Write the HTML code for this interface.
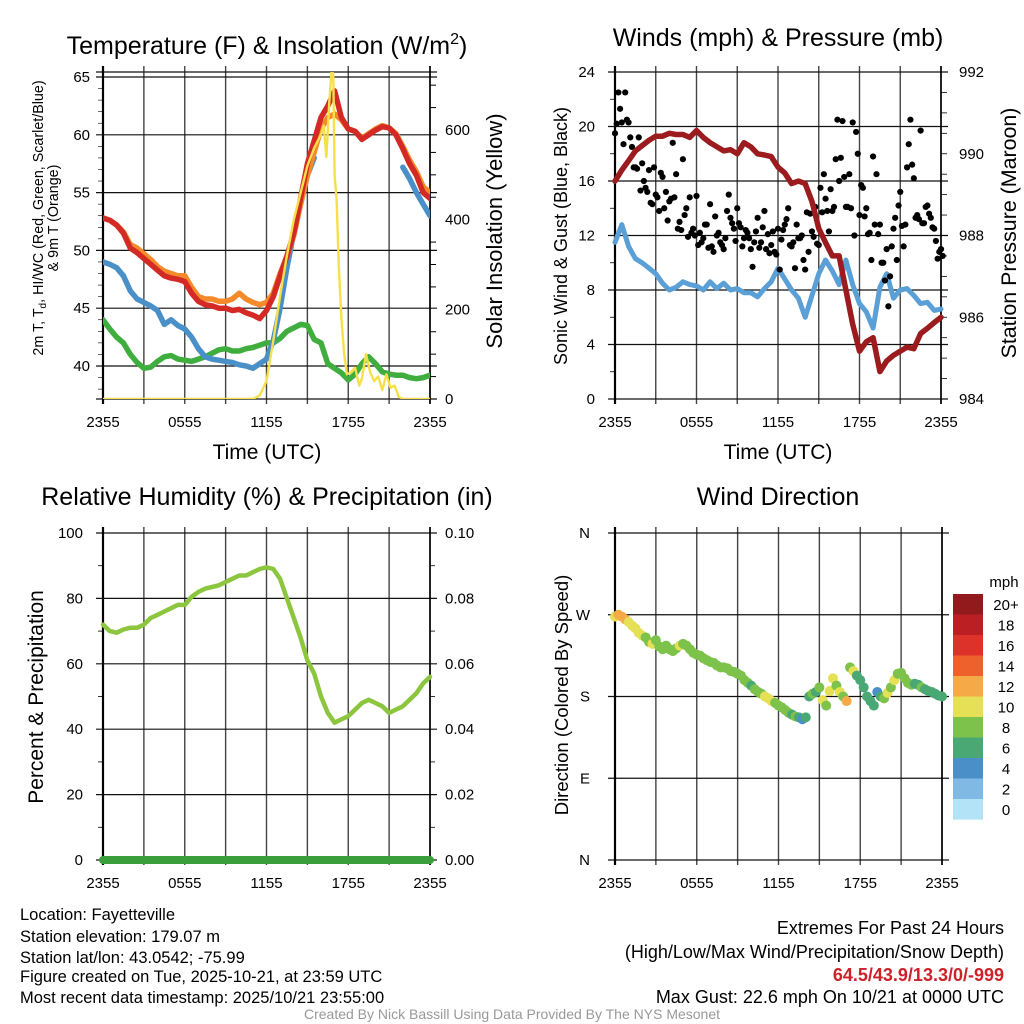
<!DOCTYPE html>
<html><head><meta charset="utf-8"><title>Mesonet station chart</title>
<style>
html,body{margin:0;padding:0;background:#fff;}
svg{display:block;font-family:"Liberation Sans",Arial,sans-serif;}
</style></head>
<body>
<svg id="chart" width="1024" height="1024" viewBox="0 0 1024 1024" xmlns="http://www.w3.org/2000/svg">
<rect width="1024" height="1024" fill="#fff"/>
<g id="root"></g>
<text x="267" y="54" font-size="25" text-anchor="middle">Temperature (F) &amp; Insolation (W/m<tspan font-size="16" dy="-10">2</tspan><tspan dy="10">)</tspan></text>
<text x="778" y="46" font-size="25" text-anchor="middle">Winds (mph) &amp; Pressure (mb)</text>
<text x="267" y="505" font-size="25" text-anchor="middle">Relative Humidity (%) &amp; Precipitation (in)</text>
<text x="778" y="505" font-size="25" text-anchor="middle">Wind Direction</text>

<text x="267" y="459" font-size="21" text-anchor="middle">Time (UTC)</text>
<text x="778" y="459" font-size="21" text-anchor="middle">Time (UTC)</text>

<text font-size="14.3" text-anchor="middle" transform="translate(43,218) rotate(-90)">2m T, T<tspan font-size="10" dy="3">d</tspan><tspan dy="-3">, HI/WC (Red, Green, Scarlet/Blue)</tspan></text>
<text font-size="14.3" text-anchor="middle" transform="translate(58,218) rotate(-90)">&amp; 9m T (Orange)</text>
<text font-size="22" text-anchor="middle" transform="translate(502,231) rotate(-90)">Solar Insolation (Yellow)</text>
<text font-size="18" text-anchor="middle" transform="translate(567,236) rotate(-90)">Sonic Wind &amp; Gust (Blue, Black)</text>
<text font-size="21.4" text-anchor="middle" transform="translate(1016,233) rotate(-90)">Station Pressure (Maroon)</text>
<text font-size="21" text-anchor="middle" transform="translate(43,697) rotate(-90)">Percent &amp; Precipitation</text>
<text font-size="18.5" text-anchor="middle" transform="translate(568,695) rotate(-90)">Direction (Colored By Speed)</text>

<g font-size="16.5">
<text x="20" y="920">Location: Fayetteville</text>
<text x="20" y="942">Station elevation: 179.07 m</text>
<text x="20" y="963">Station lat/lon: 43.0542; -75.99</text>
<text x="20" y="982">Figure created on Tue, 2025-10-21, at 23:59 UTC</text>
<text x="20" y="1003">Most recent data timestamp: 2025/10/21 23:55:00</text>
</g>
<g font-size="18" text-anchor="end">
<text x="1004" y="934">Extremes For Past 24 Hours</text>
<text x="1004" y="958">(High/Low/Max Wind/Precipitation/Snow Depth)</text>
<text x="1004" y="981" fill="#cc2229" font-weight="bold">64.5/43.9/13.3/0/-999</text>
<text x="1004" y="1003">Max Gust: 22.6 mph On 10/21 at 0000 UTC</text>
</g>
<text x="512" y="1019" font-size="14" fill="#999" text-anchor="middle">Created By Nick Bassill Using Data Provided By The NYS Mesonet</text>
</svg>
<script>
// ---- data (hours since 2355 UTC, half-hour steps) ----
const hours = [0,0.5,1,1.5,2,2.5,3,3.5,4,4.5,5,5.5,6,6.5,7,7.5,8,8.5,9,9.5,10,10.5,11,11.5,12,12.5,13,13.5,14,14.5,15,15.5,16,16.5,17,17.5,18,18.5,19,19.5,20,20.5,21,21.5,22,22.5,23,23.5,24];
const tempRed = [52.8,52.6,52.2,51.5,50.2,49.8,49.3,48.8,48.3,47.8,47.6,47.5,47.3,46.3,45.6,45.3,45.2,45.0,45.0,44.8,44.9,44.6,44.4,44.1,44.8,46.0,47.8,49.5,51.5,54.5,57.5,59.5,61.5,62.5,63.8,61.5,60.5,60.3,59.6,60.0,60.4,60.7,60.6,60.0,58.8,57.5,56.5,55.0,54.5];
const tempOrange = [52.8,52.6,52.2,51.6,50.5,50.2,49.7,49.2,48.6,48.2,48.0,47.8,47.8,46.8,46.0,45.8,45.8,45.6,45.6,45.8,46.3,45.8,45.5,45.3,45.5,46.3,48.0,49.5,51.3,54.0,56.5,58.5,60.5,61.5,61.8,61.3,60.5,60.3,59.7,60.1,60.5,60.8,60.6,60.1,59.0,57.8,56.8,55.5,55.0];
const tempBlue = [49.0,48.8,48.5,47.8,46.5,45.8,45.5,45.2,44.8,43.6,44.0,43.5,43.2,42.5,41.5,40.8,40.6,40.5,40.4,40.3,40.1,40.0,39.8,40.2,40.6,42.2,45.0,48.5,51.5,54.0,56.5,58.0,null,null,null,null,null,null,null,null,null,null,null,null,57.2,56.2,55.0,54.0,53.0];
const tempGreen = [44.0,43.2,42.5,42.0,41.0,40.3,39.8,39.9,40.4,40.8,40.9,40.6,40.5,40.4,40.6,40.8,41.1,41.4,41.5,41.3,41.3,41.5,41.6,41.8,42.0,42.0,42.4,43.0,43.3,43.6,43.5,42.3,42.0,40.2,39.8,39.4,38.8,39.3,40.2,40.8,40.2,39.5,39.3,39.2,39.2,39.0,38.9,39.0,39.2];
const solarHours = [0,11.0,11.5,12,12.5,13,13.5,14,14.5,15,15.5,16,16.2,16.4,16.6,16.8,16.9,17.0,17.15,17.3,17.5,17.7,17.9,18.2,18.5,18.8,19.0,19.3,19.6,19.9,20.2,20.5,20.8,21.1,21.4,21.7,22.0,22.5,24];
const solar = [0,0,8,40,130,230,320,400,460,520,560,590,610,540,660,740,720,500,440,300,180,100,55,60,70,30,45,100,60,40,50,20,55,25,30,5,0,0,0];
const windSpeed = [11.5,12.8,11.2,10.3,10.0,9.6,9.2,8.5,8.0,8.2,8.6,8.4,8.3,8.0,8.6,8.1,8.5,8.0,8.1,7.8,7.8,7.5,8.1,8.6,9.6,8.8,8.0,7.4,6.0,7.6,9.2,10.2,9.4,8.4,10.2,8.4,7.0,6.4,5.2,8.2,9.2,7.4,8.0,8.1,7.6,7.0,7.1,6.5,6.6];
const pressure = [989.33,989.6,989.83,990.07,990.2,990.33,990.43,990.43,990.5,990.47,990.47,990.4,990.57,990.4,990.27,990.17,990.07,990.1,990.0,990.27,990.17,990.0,989.97,989.93,989.67,989.53,989.27,989.33,989.27,988.83,988.17,987.83,987.5,987.5,986.67,985.83,985.17,985.4,985.5,984.67,984.93,985.07,985.17,985.27,985.23,985.6,985.73,985.87,986.0];
const relHum = [72,70,69.5,70.5,71,71,72,74,75,76,77,78,78,80.5,82,83,83.5,84,85,86,87,87,88,89,89.5,89,86,80,74,68,61,57,50,45,42,43,44,46,48,49,48,47,45,46,47,49,51,54,56];
const precip = [0,0,0,0,0,0,0,0,0,0,0,0,0,0,0,0,0,0,0,0,0,0,0,0,0,0,0,0,0,0,0,0,0,0,0,0,0,0,0,0,0,0,0,0,0,0,0,0,0];
// quarter-hour series
const gusts = [19.5,22.5,20.3,22.5,20.3,18.5,17,19.2,17.3, 15.5,16.8,14.3,15,13.8,16.3,15.2,14.5, 18.8,16.5,13,17.6,14,14.8,12.5,14.9, 12.2,11.8,12.8,14.3,10.8,12,11.5,11, 13.8,13.3,12.5,14,12.6,11.8,12.2,11, 11.5,13.3,11.5,13.8,12.1,11.3,10.8,12.5, 11.7,12.8,14,11.2,9.6,11.8,12,9.5, 10.8,12.3,14.1,11.3,13.7,14.7,12.3,13.8, 17.6,16,20.4,14.1,16.5,20.3,19.6,13.5, 15.5,14,12.2,17.8,16.5,12.8,10,11, 9,12.5,10.2,15.2,11.2,17,20.5,16.2, 13.5,19.7,12.9,14.2,13.3,12.5,10.3,11];
const gusts2 = [20.2,21.3,18.7,20.5,19.2,17,16.9,15.3,16, 15.2,14.4,17,14.8,16.6,14,13.1,14.7, 14.8,12.5,12.4,13.5,11.9,12.2,12,11.3, 11.5,12.8,11.1,11.2,13.4,12.2,11.3,11.8, 15,12.9,11.6,12.9,11.2,12.4,11.8,9.7, 12.3,11.1,12.6,11,10.7,12.3,10.6,9.5, 12.4,13.2,11.3,11.5,12.8,11.8,10.2,13.7, 13.6,11.9,11.4,15.5,16.5,13.8,15.4,14.1, 20.5,17.7,16.3,14.1,14,12,18,15.7, 13.4,12.1,10.2,12.8,12.1,10,8.7,6.8, 11.2,13.3,14.2,12.7,12.8,18.7,17.2,13.3, 13.2,12.9,14.1,13.6,12.6,11.6,10.8,10.5];
const windDir = [268,270,268,265,262,258,255,250,247, 245,240,238,242,235,232,236,232, 230,233,236,238,236,232,228,226, 225,222,220,218,217,214,212,212, 211,208,207,205,203,198,195,192, 188,185,183,180,178,175,173,170, 168,165,162,160,158,157,155,157, 180,183,185,190,176,170,186,200, 192,185,180,175,212,208,203,198, 190,180,175,170,185,180,178,184, 190,198,205,206,200,195,193,194, 193,190,188,186,185,183,181,180];
const dirSpeed = [10.5,12.5,12.5,12.2,11,10.5,10.3,10.5,10.2, 8.5,8.8,10.5,8.6,8.4,8.5,8.7,8.8, 8.6,8.5,10.5,8.8,8.4,8.5,8.6,8.5, 8.4,8.6,8.5,8.7,8.5,8.4,8.6,8.5, 8.5,8.4,8.6,8.5,8.3,8.5,8.4,6.5, 8.5,8.6,8.4,10.5,10.8,10.4,8.6,8.5, 8.4,8.5,8.2,6.5,8.3,6.8,4.5,6.5, 6.5,8.5,6.5,8.6,10.5,8.5,10.2,11.2, 8.5,10.5,8.5,13,8.5,10.5,6.5,6.8, 6.5,6.6,6.4,6.7,4.5,6.5,8.5,10.5, 8.5,10.8,8.6,8.5,8.4,8.7,8.5,6.5, 6.6,8.5,6.5,6.7,6.5,6.6,6.5,6.4];
const timeTicks = ["2355","0555","1155","1755","2355"];
const tempTicks = [40,45,50,55,60,65];
const solarTicks = [0,200,400,600];
const windTicks = [0,4,8,12,16,20,24];
const presTicks = [984,986,988,990,992];
const rhTicks = [0,20,40,60,80,100];
const precipTicks = ["0.00","0.02","0.04","0.06","0.08","0.10"];
const dirTicks = ["N","E","S","W","N"];
const legendLabels = ["20+","18","16","14","12","10","8","6","4","2","0"];
const legendColors = ["#921a1c","#bb1f24","#dc3229","#ef612c","#f5a947","#e5e055","#7dc24a","#4aa874","#4a8fc7","#80b9e3","#b3e3f7"];

const NS="http://www.w3.org/2000/svg";
const root=document.getElementById('root');
function mk(tag,attrs,parent){const e=document.createElementNS(NS,tag);for(const k in attrs)e.setAttribute(k,attrs[k]);(parent||root).appendChild(e);return e;}
function lin(d0,d1,r0,r1){return v=>r0+(v-d0)*(r1-r0)/(d1-d0);}
const qh = gusts.map((_,i)=>i*0.25);

function panel(name){
  const g=mk('g',{});
  
  
  return g;
}
function grid(g,x0,x1,y0,y1,hys){
  const sx=lin(0,24,x0,x1);
  for(let h=0;h<=24;h+=3){
    const l=mk('line',{x1:sx(h),x2:sx(h),y1:y0-6,y2:y1+5,stroke:'#444','stroke-width':1.4},g);
    
    
  }
  hys.forEach(y=>{
    const l=mk('line',{x1:x0-7,x2:x1+7,y1:y,y2:y,stroke:'#111','stroke-width':1.2},g);
    
    
  });
  mk('line',{x1:x0,x2:x0,y1:y0-6,y2:y1+5,stroke:'#000','stroke-width':2.2},g);
  mk('line',{x1:x1,x2:x1,y1:y0-6,y2:y1+5,stroke:'#000','stroke-width':1.6},g);
  timeTicks.forEach((t,i)=>{
    const tx=mk('text',{x:sx(i*6),y:y1+28,'font-size':15,'text-anchor':'middle'},g);
    tx.textContent=t;
    
    
  });
  return sx;
}
function path(g,xs,ys,sx,sy,color,w,name){
  let d='',pen=false;
  for(let i=0;i<xs.length;i++){
    if(ys[i]===null||ys[i]===undefined){pen=false;continue;}
    d+=(pen?'L':'M')+sx(xs[i]).toFixed(1)+','+sy(ys[i]).toFixed(1);pen=true;
  }
  const p=mk('path',{d:d,fill:'none',stroke:color,'stroke-width':w,'stroke-linejoin':'round','stroke-linecap':'round'},g);
  
  
  return p;
}
function ylab(g,x,y,txt,anchor){
  const t=mk('text',{x:x,y:y+5,'font-size':15,'text-anchor':anchor},g);
  t.textContent=txt;
  
  
}

// ---- Panel 1: temperature ----
{
  const X0=103,X1=430,Y0=72,Y1=399;
  const g=panel('temperature-panel');
  const sy=lin(40,65,366,77), ss=lin(0,600,399,130);
  const sx=grid(g,X0,X1,Y0,Y1,tempTicks.map(sy).concat([Y0,Y1]));
  tempTicks.forEach(v=>ylab(g,X0-13,sy(v),String(v),'end'));
  solarTicks.forEach(v=>ylab(g,X1+15,ss(v),String(v),'start'));
  for(let v=50;v<=700;v+=50){ if(v%200) mk('line',{x1:X1,x2:X1+6,y1:ss(v),y2:ss(v),stroke:'#000','stroke-width':1},g);}
  for(let v=38;v<=65;v+=1){ if(v%5) mk('line',{x1:X0-5,x2:X0,y1:sy(v),y2:sy(v),stroke:'#000','stroke-width':0.6},g);}
  const clip=mk('clipPath',{id:'c1'},g); mk('rect',{x:X0,y:Y0,width:X1-X0,height:Y1-Y0},clip);
  const dg=mk('g',{'clip-path':'url(#c1)'},g);
  path(dg,hours,tempGreen,sx,sy,'#3fae3f',5.5,'dewpoint-line');
  path(dg,hours,tempBlue,sx,sy,'#4a90c8',5.5,'heat-index-line');
  path(dg,hours,tempOrange,sx,sy,'#f48a2a',5.5,'temp-9m-line');
  path(dg,hours,tempRed,sx,sy,'#d42a26',5.5,'temp-2m-line');
  path(dg,solarHours,solar,sx,ss,'#f6e04a',2.4,'solar-line');
}
// ---- Panel 2: wind ----
{
  const X0=615,X1=941,Y0=72,Y1=399;
  const g=panel('wind-panel');
  const sy=lin(0,24,399,72), sp=lin(984,992,399,72);
  const sx=grid(g,X0,X1,Y0,Y1,windTicks.map(sy));
  windTicks.forEach(v=>ylab(g,X0-20,sy(v),String(v),'end'));
  presTicks.forEach(v=>ylab(g,X1+18,sp(v),String(v),'start'));
  for(let v=984.5;v<992;v+=0.5){ mk('line',{x1:X1,x2:X1+6,y1:sp(v),y2:sp(v),stroke:'#000','stroke-width':0.8},g);}
  for(let v=2;v<24;v+=4){ mk('line',{x1:X0-5,x2:X0,y1:sy(v),y2:sy(v),stroke:'#000','stroke-width':0.8},g);}
  path(g,hours,windSpeed,sx,sy,'#5a9fd6',5,'sonic-wind-line');
  gusts.forEach((v,i)=>{
    const c=mk('circle',{cx:sx(qh[i]),cy:sy(v),r:3.1,fill:'#000'},g);
    
    
  });
  gusts2.forEach((v,i)=>{
    const c=mk('circle',{cx:sx(qh[i]+0.125),cy:sy(v),r:3.1,fill:'#000'},g);
    
    
  });
  path(g,hours,pressure,sx,sp,'#9b1b1e',5.5,'pressure-line');
}
// ---- Panel 3: RH ----
{
  const X0=103,X1=430,Y0=533,Y1=860;
  const g=panel('humidity-panel');
  const sy=lin(0,100,860,533), sp=lin(0,0.1,860,533);
  const sx=grid(g,X0,X1,Y0,Y1,rhTicks.map(sy));
  rhTicks.forEach(v=>ylab(g,X0-20,sy(v),String(v),'end'));
  precipTicks.forEach(v=>ylab(g,X1+15,sp(parseFloat(v)),v,'start'));
  for(let v=10;v<100;v+=20){ mk('line',{x1:X0-5,x2:X0,y1:sy(v),y2:sy(v),stroke:'#000','stroke-width':0.8},g); mk('line',{x1:X1,x2:X1+5,y1:sy(v),y2:sy(v),stroke:'#000','stroke-width':0.8},g);}
  path(g,hours,relHum,sx,sy,'#8cc63f',4.5,'humidity-line');
  path(g,hours,precip,sx,sp,'#3a9e3a',8,'precip-line');
}
// ---- Panel 4: direction ----
{
  const X0=615,X1=942,Y0=533,Y1=860;
  const g=panel('direction-panel');
  const sy=lin(0,360,860,533);
  const sx=grid(g,X0,X1,Y0,Y1,[0,90,180,270,360].map(sy));
  dirTicks.forEach((t,i)=>ylab(g,X0-25,sy(i*90),t,'end'));
  function col(s){const k=Math.min(10,Math.floor(s/2));return legendColors[10-k];}
  windDir.forEach((v,i)=>{
    const c=mk('circle',{cx:sx(qh[i]),cy:sy(v),r:5,fill:col(dirSpeed[i])},g);
    
    
  });
  const lg=mk('g',{},g);
  
  
  const t=mk('text',{x:1004,y:587,'font-size':15,'text-anchor':'middle'},lg); t.textContent='mph';
  legendLabels.forEach((l,i)=>{
    const r=mk('rect',{x:953,y:594+i*20.5,width:30,height:20.6,fill:legendColors[i]},lg);
    
    
    const tx=mk('text',{x:1006,y:594+i*20.5+16,'font-size':15,'text-anchor':'middle'},lg);
    tx.textContent=l;
    
    
  });
}
</script>
</body></html>
